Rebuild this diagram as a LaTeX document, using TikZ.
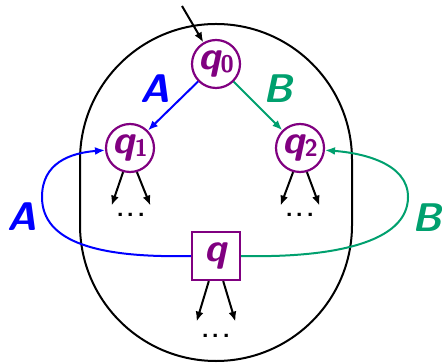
\documentclass[tikz,border=0pt]{standalone}
\usepackage{tikz}
\usetikzlibrary{arrows.meta}
\definecolor{qpurple}{RGB}{128,0,128}
\definecolor{agreen}{RGB}{0,160,110}
\newcommand{\qlab}[1]{q\raisebox{-1.5pt}{\fontsize{12}{12}\selectfont\upshape #1}}

\begin{document}
\begin{tikzpicture}[
  x=0.5pt, y=0.5pt,
  every node/.style={font=\fontsize{20}{22}\selectfont\sffamily\bfseries\slshape},
  circlestate/.style={draw=qpurple, line width=1.1pt, circle, minimum size=24pt, inner sep=0pt, text=qpurple},
  boxstate/.style={draw=qpurple, line width=1.1pt, rectangle, minimum size=24pt, inner sep=0pt, text=qpurple},
  dotsnode/.style={minimum width=19pt, minimum height=9pt, inner sep=0pt, font=\fontsize{20}{22}\selectfont\sffamily},
  arrow/.style={-{Latex[length=5pt,width=4pt]}, line width=1pt}
]
\useasboundingbox (0,0) rectangle (442,363);

% outer region
\draw[line width=1pt] (80,138) -- (80,203) arc[start angle=180, end angle=0, radius=68pt]
  -- (352,138) arc[start angle=0, end angle=-180, radius=68pt] -- cycle;

\node[circlestate] (q0) at (216,299) {\qlab{0}};
\node[circlestate] (q1) at (130,215) {\qlab{1}};
\node[circlestate] (q2) at (300,215) {\qlab{2}};
\node[boxstate] (q) at (216,107) {q};

\node[dotsnode] (dots1) at (131,148) {...};
\node[dotsnode] (dots2) at (300,148) {...};
\node[dotsnode, minimum height=14pt] (dots3) at (216,27) {...};

\node[blue] (la) at (155,274) {A};
\node[agreen] (lb) at (278,274) {B};
\node[blue] (loopa) at (22,146) {A};
\node[agreen] (loopb) at (427,145) {B};

\coordinate (start) at (182,357);

\draw[arrow] (start) -- (q0);
\draw[arrow, blue] (q0) -- (q1);
\draw[arrow, agreen] (q0) -- (q2);

\draw[arrow, blue] (q.west) .. controls (100,105) and (42,120) .. (42,166)
  .. controls (42,200) and (70,210) .. (q1.185);
\draw[arrow, agreen] (q.east) .. controls (332,105) and (408,120) .. (408,166)
  .. controls (408,200) and (362,210) .. (q2.-5);

\draw[arrow] (q1.-106) -- (dots1.north west);
\draw[arrow] (q1.-74) -- (dots1.north east);
\draw[arrow] (q2.-106) -- (dots2.north west);
\draw[arrow] (q2.-74) -- (dots2.north east);
\draw[arrow] (q.-106) -- (dots3.north west);
\draw[arrow] (q.-74) -- (dots3.north east);

\end{tikzpicture}
\end{document}
